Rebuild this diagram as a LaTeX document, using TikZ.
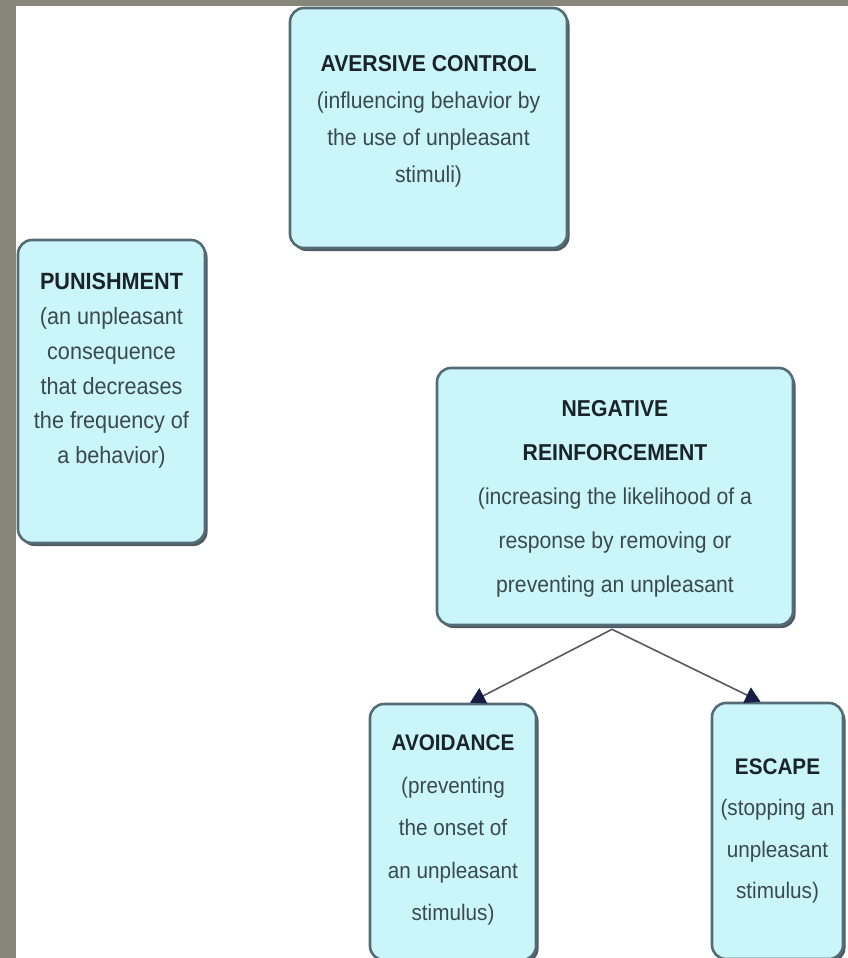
\documentclass[tikz,border=0pt]{standalone}
\usepackage{fontspec}
\setmainfont{Liberation Sans}[FakeStretch=0.92]
\usetikzlibrary{calc,arrows.meta,shadows}
\definecolor{bggray}{RGB}{134,135,122}
\definecolor{boxfill}{RGB}{202,246,250}
\definecolor{boxline}{RGB}{84,108,118}
\definecolor{boxshadow}{RGB}{60,72,80}
\definecolor{titlecol}{RGB}{25,35,40}
\definecolor{bodycol}{RGB}{58,74,76}
\definecolor{arrowcol}{RGB}{92,88,96}
\definecolor{headcol}{RGB}{22,30,70}
\tikzset{
  conceptbox/.style={draw=boxline, line width=2.6pt, fill=boxfill, rounded corners=14pt,
    inner sep=0pt, drop shadow={shadow xshift=2.5pt, shadow yshift=-3pt, fill=boxshadow, opacity=0.9}},
  boxtext/.style={align=center, text=bodycol, inner sep=0pt},
  link/.style={draw=arrowcol, line width=1.6pt, -{Triangle[length=15pt,width=17pt,fill=headcol,color=headcol]}}
}
\newcommand{\ttl}[1]{{\bfseries\color{titlecol}#1}}
\begin{document}
\begin{tikzpicture}[x=1pt,y=-1pt]
\useasboundingbox (0,0) rectangle (848,958);
\fill[bggray] (0,0) rectangle (848,958);
\fill[white] (16,6) rectangle (848,958);
\begin{scope}
\clip (16,6) rectangle (848,958);
% boxes
\node[conceptbox, minimum width=277pt, minimum height=240pt] (ac) at (428.5,128) {};
\node[conceptbox, minimum width=187pt, minimum height=303pt] (pun) at (111.5,391.5) {};
\node[conceptbox, minimum width=356pt, minimum height=257pt] (nr) at (615,496.5) {};
\node[conceptbox, minimum width=166pt, minimum height=256pt] (av) at (453,832) {};
\node[conceptbox, minimum width=131pt, minimum height=256pt] (es) at (777.5,831) {};
\end{scope}
% texts
\node[boxtext, font=\fontsize{23}{37}\selectfont] (act) at (428.5,121)
  {\ttl{AVERSIVE CONTROL}\\(influencing behavior by\\the use of unpleasant\\stimuli)};
\node[boxtext, font=\fontsize{23.5}{34.8}\selectfont] (punt) at (111.5,371)
  {\ttl{PUNISHMENT}\\(an unpleasant\\consequence\\that decreases\\the frequency of\\a behavior)};
\node[boxtext, font=\fontsize{23}{44}\selectfont] (nrt) at (615,498.5)
  {\ttl{NEGATIVE}\\\ttl{REINFORCEMENT}\\(increasing the likelihood of a\\response by removing or\\preventing an unpleasant};
\node[boxtext, font=\fontsize{22.5}{42.5}\selectfont] (avt) at (453,830)
  {\ttl{AVOIDANCE}\\(preventing\\the onset of\\an unpleasant\\stimulus)};
\node[boxtext, font=\fontsize{22.5}{41.5}\selectfont] (est) at (777.5,831)
  {\ttl{ESCAPE}\\(stopping an\\unpleasant\\stimulus)};
% connectors
\coordinate (split) at ($(nr.south)+(-3,3)$);
\draw[link] (split) -- ($(av.north)+(17,0)$);
\draw[link] (split) -- ($(es.north)+(-17,0)$);
\end{tikzpicture}
\end{document}
